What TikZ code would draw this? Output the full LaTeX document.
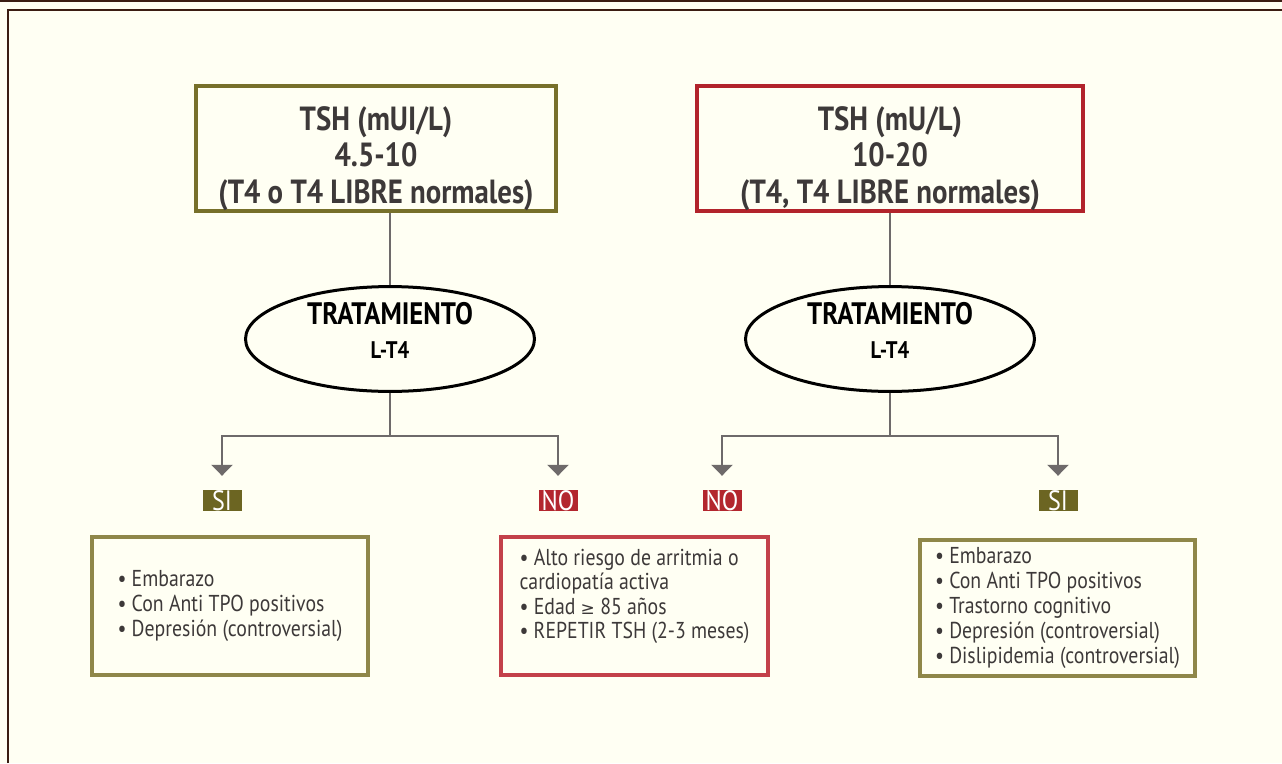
\documentclass[tikz,border=0pt]{standalone}
\usepackage{fontspec}
\setmainfont{PT Sans}[FakeStretch=0.86]
\newfontfamily\symbfont{DejaVu Sans}
\usetikzlibrary{arrows.meta,shapes.geometric}
\definecolor{cream}{HTML}{FFFFF3}
\definecolor{framebrown}{HTML}{3B1D12}
\definecolor{textgray}{HTML}{3D3939}
\definecolor{linkgray}{HTML}{6E6A6A}
\definecolor{olivedark}{HTML}{77702A}
\definecolor{olivelight}{HTML}{8F8749}
\definecolor{olivetag}{HTML}{6C6522}
\definecolor{reddark}{HTML}{B2232B}
\definecolor{redlight}{HTML}{C3414A}
\definecolor{redtag}{HTML}{B3262E}
\begin{document}
\begin{tikzpicture}[
  x=1pt, y=-1pt,
  topbox/.style={rectangle, draw, line width=4pt, minimum width=360pt, inner sep=0pt, align=center, text=textgray, font=\bfseries\fontsize{33.5}{36.5}\selectfont},
  treat/.style={ellipse, draw=black, line width=3pt, minimum width=289pt, minimum height=79pt, inner sep=0pt, align=center, text=black, font=\bfseries\fontsize{31}{34}\selectfont},
  tag/.style={rectangle, minimum width=39pt, minimum height=21pt, inner sep=0pt, text=white, font=\fontsize{28}{28}\selectfont},
  listbox/.style={rectangle, draw, line width=4pt, minimum height=138.5pt, inner sep=0pt, align=left, text=textgray, font=\fontsize{23}{25}\selectfont},
  stem/.style={draw=linkgray, line width=2.5pt},
  link/.style={stem, -{Triangle[width=21pt,length=11pt]}, shorten >=14pt}
]
% page and frame
\fill[cream] (0,0) rectangle (1282,763);
\useasboundingbox (0,0) rectangle (1282,763);
\draw[framebrown, line width=2pt] (0,1) -- (1282,1);
\draw[framebrown, line width=2pt] (7.5,763) -- (7.5,10) -- (1282,10);

% TSH ranges
\node[topbox, draw=olivedark] (tsha) at (376,148.5) {\rule{0pt}{44pt}TSH (mUI/L)\\4.5-10\\(T4 o T4 LIBRE normales)\rule[-8pt]{0pt}{8pt}};
\node[topbox, draw=reddark, minimum width=386pt, right of=tsha, node distance=514pt] (tshb) {\rule{0pt}{44pt}TSH (mU/L)\\10-20\\(T4, T4 LIBRE normales)\rule[-8pt]{0pt}{8pt}};

% treatment
\node[treat] (ella) at (390,339) {TRATAMIENTO\\{\fontsize{24}{34}\selectfont L-T4}\rule[-18pt]{0pt}{18pt}};
\node[treat, right of=ella, node distance=500pt] (ellb) {TRATAMIENTO\\{\fontsize{24}{34}\selectfont L-T4}\rule[-18pt]{0pt}{18pt}};

% answers
\node[tag, fill=olivetag] (sia) at (222,500.5) {SI};
\node[tag, fill=redtag, right of=sia, node distance=336pt] (noa) {NO};
\node[tag, fill=redtag, right of=noa, node distance=164pt] (nob) {NO};
\node[tag, fill=olivetag, right of=nob, node distance=336pt] (sib) {SI};

% criteria
\node[listbox, draw=olivelight, minimum width=276pt] (lista) at (230,606) {\textbullet\ Embarazo\\\textbullet\ Con Anti TPO positivos\\\textbullet\ Depresión (controversial)};
\node[listbox, draw=redlight, minimum width=267pt, font=\fontsize{23}{24.2}\selectfont] (listb) at (634.5,606) {\textbullet\ Alto riesgo de arritmia o\\cardiopatía activa\\\textbullet\ Edad {\symbfont\fontsize{17}{17}\selectfont ≥} 85 años\\\textbullet\ REPETIR TSH (2-3 meses)\\\mbox{}};
\node[listbox, draw=olivelight, minimum width=275pt, minimum height=136.5pt] (listc) at (1057.5,608) {\textbullet\ Embarazo\\\textbullet\ Con Anti TPO positivos\\\textbullet\ Trastorno cognitivo\\\textbullet\ Depresión (controversial)\\\textbullet\ Dislipidemia (controversial)};

% connectors
\draw[stem] (ella.north) -- (ella.north |- tsha.south);
\draw[stem] (ellb.north) -- (ellb.north |- tshb.south);
\draw[link] (ella.south) -- ++(0,43) -| (sia);
\draw[link] (ella.south) -- ++(0,43) -| (noa);
\draw[link] (ellb.south) -- ++(0,43) -| (nob);
\draw[link] (ellb.south) -- ++(0,43) -| (sib);
\end{tikzpicture}
\end{document}
